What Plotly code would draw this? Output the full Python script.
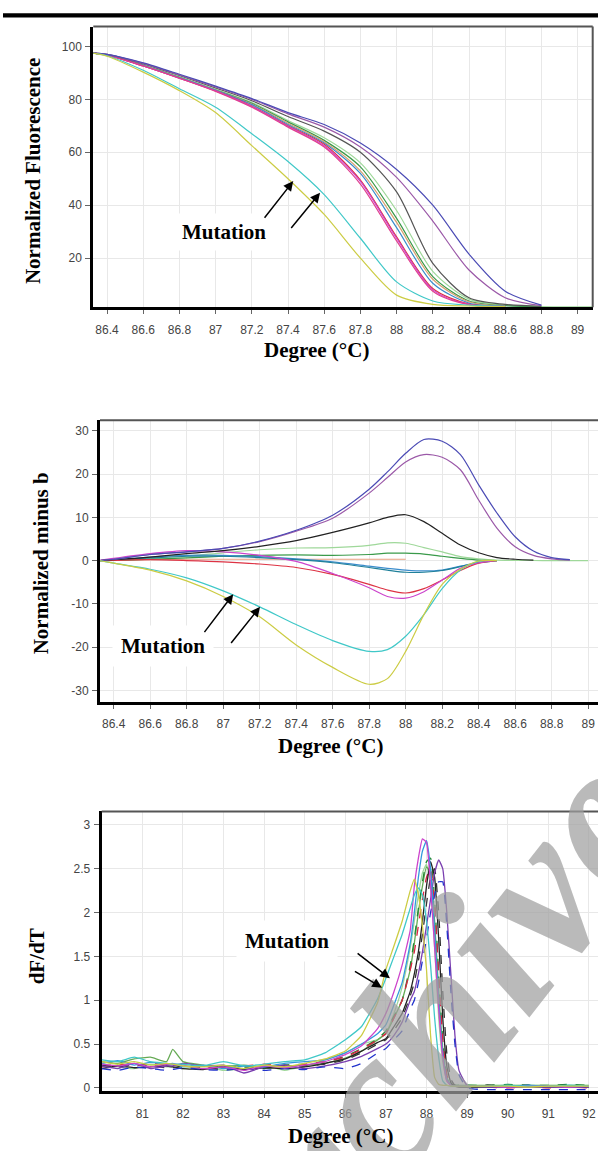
import plotly.graph_objects as go

W, H = 598, 1151

# ---------------- Panel A: normalized fluorescence ----------------
temp_a = [86.32, 86.4, 86.6, 86.8, 87.0, 87.2, 87.4, 87.6, 87.8, 88.0, 88.2, 88.4, 88.6, 88.8, 89.0, 89.08]
fa_blueviolet = [97.5, 97.0, 93.8, 89.5, 85.0, 80.3, 75.0, 70.5, 63.5, 53.5, 40.0, 21.5, 7.5, 2.2]
fa_purple     = [97.5, 97.0, 93.6, 89.2, 84.7, 80.0, 74.5, 69.5, 62.0, 50.5, 34.0, 15.5, 5.0, 2.0]
fa_darkgray   = [97.5, 97.0, 93.4, 89.0, 84.3, 79.5, 73.5, 68.0, 60.0, 45.0, 18.0, 5.0, 2.5, 1.8]
fa_lightgreen = [97.5, 96.8, 93.0, 88.5, 83.8, 78.8, 72.0, 65.5, 56.0, 38.0, 15.0, 4.5, 2.2, 1.7, 1.6, 1.6]
fa_green      = [97.5, 96.8, 92.8, 88.3, 83.5, 78.5, 71.5, 64.5, 54.5, 35.0, 13.0, 3.8, 2.0, 1.7]
fa_tan        = [97.5, 96.8, 92.8, 88.2, 83.4, 78.2, 71.0, 64.0, 53.0, 33.5, 12.0, 3.5, 1.9]
fa_blue       = [97.5, 96.8, 92.8, 88.2, 83.4, 78.0, 70.5, 63.5, 52.0, 31.5, 10.5, 3.0, 1.8]
fa_red        = [97.5, 96.8, 92.6, 88.0, 83.2, 77.5, 70.0, 63.0, 49.5, 28.0, 8.5, 2.6, 1.8]
fa_magenta    = [97.5, 96.8, 92.6, 88.0, 83.2, 77.3, 69.8, 62.5, 49.0, 27.5, 8.0, 2.5, 1.7]
fa_pink       = [97.5, 96.8, 92.6, 88.0, 83.0, 77.0, 69.5, 62.0, 48.0, 26.5, 7.5, 2.4, 1.7]
fa_cyan       = [97.5, 96.5, 91.0, 84.0, 77.0, 67.0, 56.5, 44.0, 27.5, 11.0, 3.8, 2.2, 1.8]
fa_yellow     = [97.5, 96.3, 90.3, 83.3, 75.0, 62.5, 50.0, 36.5, 20.0, 6.0, 2.5, 1.9, 1.7]
ticks_a_x = [86.4, 86.6, 86.8, 87.0, 87.2, 87.4, 87.6, 87.8, 88.0, 88.2, 88.4, 88.6, 88.8, 89.0]
ticks_a_y = [20, 40, 60, 80, 100]

# ---------------- Panel B: normalized minus baseline ----------------
temp_b = [86.32, 86.4, 86.6, 86.8, 87.0, 87.2, 87.4, 87.6, 87.8, 87.9, 88.0, 88.1, 88.2, 88.3, 88.4, 88.5, 88.6, 88.7, 88.8, 88.9, 89.0]
db_blueviolet = [0, 0.3, 1.4, 2.0, 2.8, 4.5, 7.0, 10.5, 16.5, 20.5, 24.8, 28.0, 27.6, 24.5, 17.5, 11.0, 5.5, 2.2, 0.7, 0.2]
db_purple     = [0, 0.3, 1.4, 2.0, 2.8, 4.4, 6.8, 9.8, 15.6, 19.2, 22.8, 24.5, 23.9, 21.0, 14.0, 7.5, 3.2, 1.2, 0.4, 0.1]
db_black      = [0, 0.2, 0.8, 1.6, 2.3, 3.3, 4.6, 6.5, 8.7, 10.0, 10.6, 9.0, 6.3, 3.6, 1.8, 0.7, 0.3, 0.1]
db_lightgreen = [0, 0.1, 0.5, 1.0, 1.8, 2.5, 2.9, 3.0, 3.5, 4.1, 4.0, 3.0, 2.0, 0.9, 0.4, 0.1, 0.05, 0.02, 0.0, 0.0, 0.0]
db_green      = [0, 0.05, 0.3, 0.6, 1.0, 1.2, 1.3, 1.2, 1.4, 1.7, 1.7, 1.5, 1.0, 0.5, 0.1, 0.0]
db_salmon     = [0, 0.1, 0.2, 0.3, 0.3, 0.3, 0.3, 0.3, 0.3, 0.3, 0.3]
db_blue       = [0, 0.2, 0.8, 1.2, 1.2, 0.9, 0.4, -0.3, -1.3, -1.8, -2.2, -2.4, -2.2, -1.3, -0.4, 0.0]
db_teal       = [0, 0.15, 0.6, 1.0, 1.0, 0.7, 0.2, -0.5, -1.6, -2.2, -2.7, -2.7, -2.3, -1.4, -0.5, 0.0]
db_red        = [0, 0.05, 0.2, 0.0, -0.3, -0.8, -1.6, -3.2, -5.5, -6.8, -7.5, -6.5, -4.5, -2.3, -0.6, 0.0]
db_magenta    = [0, 0.5, 1.6, 2.3, 2.0, 1.2, -0.2, -3.0, -6.3, -8.3, -8.7, -7.2, -4.5, -1.8, -0.5, 0.0]
db_cyan       = [0, -0.6, -2.0, -4.0, -7.0, -10.7, -14.8, -18.5, -21.0, -20.6, -17.5, -12.5, -6.5, -2.2, -0.2, 0.0]
db_yellow     = [0, -0.6, -2.2, -4.7, -8.3, -13.0, -19.5, -24.7, -28.6, -27.3, -21.0, -12.5, -5.5, -2.0, -0.1, 0.0]
ticks_b_x = ticks_a_x
ticks_b_y = [-30, -20, -10, 0, 10, 20, 30]

# ---------------- Panel C: derivative dF/dT ----------------
temp_c = [80.0, 80.4, 80.8, 81.2, 81.6, 81.75, 82.0, 82.5, 83.0, 83.5, 84.0, 84.5, 85.0, 85.5, 86.0, 86.4, 86.8,
          87.0, 87.2, 87.4, 87.6, 87.7, 87.8, 87.9, 88.0, 88.1, 88.2, 88.3, 88.4, 88.5, 88.6, 88.7, 88.8, 89.0,
          89.5, 90.0, 90.5, 91.0, 91.5, 92.0]
dc_yellow = [0.30, 0.27, 0.30, 0.26, 0.28, 0.27, 0.25, 0.24, 0.26, 0.22, 0.26, 0.24, 0.28, 0.33, 0.42, 0.60, 0.98,
             1.35, 1.62, 1.9, 2.25, 2.38, 2.2, 1.85, 1.35, 0.6, 0.12, 0.04, 0.03, 0.03, 0.02, 0.02, 0.02, 0.02,
             0.02, 0.02, 0.01, 0.02, 0.02, 0.02]
dc_cyan = [0.32, 0.30, 0.35, 0.30, 0.28, 0.27, 0.27, 0.25, 0.30, 0.25, 0.27, 0.30, 0.32, 0.40, 0.55, 0.70, 1.02,
           1.25, 1.5, 1.75, 2.05, 2.2, 2.28, 2.2, 1.9, 1.4, 0.8, 0.35, 0.08, 0.03, 0.02, 0.02, 0.02, 0.02,
           0.02, 0.03, 0.02, 0.02, 0.03, 0.02]
dc_magenta = [0.27, 0.25, 0.28, 0.24, 0.27, 0.27, 0.26, 0.22, 0.24, 0.20, 0.25, 0.23, 0.26, 0.30, 0.38, 0.48, 0.68,
              0.85, 1.1, 1.4, 1.8, 2.3, 2.62, 2.84, 2.8, 2.3, 1.6, 0.9, 0.35, 0.08, 0.03, 0.02, 0.02, 0.02,
              0.02, 0.01, 0.02, 0.02, 0.01, 0.02]
dc_lightblue = [0.28, 0.31, 0.26, 0.29, 0.27, 0.28, 0.24, 0.26, 0.22, 0.25, 0.24, 0.28, 0.30, 0.32, 0.40, 0.50, 0.62,
                0.72, 0.95, 1.2, 1.65, 2.0, 2.4, 2.7, 2.82, 2.5, 1.8, 1.0, 0.4, 0.1, 0.03, 0.02, 0.02, 0.02,
                0.02, 0.02, 0.03, 0.02, 0.02, 0.02]
dc_greendash = [0.25, 0.23, 0.27, 0.25, 0.26, 0.26, 0.24, 0.22, 0.25, 0.24, 0.22, 0.26, 0.27, 0.30, 0.36, 0.45, 0.56,
                0.65, 0.82, 1.0, 1.4, 1.7, 2.05, 2.35, 2.58, 2.62, 2.15, 1.3, 0.55, 0.15, 0.04, 0.03, 0.03, 0.03,
                0.03, 0.04, 0.03, 0.03, 0.04, 0.03]
dc_olive = [0.30, 0.28, 0.33, 0.35, 0.30, 0.44, 0.30, 0.26, 0.24, 0.26, 0.23, 0.25, 0.26, 0.28, 0.34, 0.42, 0.55,
            0.62, 0.8, 1.0, 1.35, 1.65, 2.0, 2.3, 2.52, 2.45, 1.9, 1.1, 0.45, 0.12, 0.03, 0.02, 0.02, 0.02,
            0.02, 0.02, 0.02, 0.02, 0.02, 0.02]
dc_reddash = [0.24, 0.27, 0.25, 0.28, 0.26, 0.25, 0.27, 0.24, 0.22, 0.25, 0.27, 0.25, 0.27, 0.30, 0.35, 0.44, 0.55,
              0.62, 0.8, 1.0, 1.35, 1.55, 1.85, 2.15, 2.4, 2.5, 2.1, 1.3, 0.55, 0.15, 0.04, 0.02, 0.02, 0.02,
              0.01, 0.0, 0.01, 0.0, 0.01, 0.0]
dc_black = [0.22, 0.25, 0.23, 0.24, 0.25, 0.24, 0.22, 0.21, 0.24, 0.21, 0.23, 0.22, 0.24, 0.28, 0.33, 0.42, 0.52,
            0.56, 0.7, 0.85, 1.1, 1.3, 1.55, 1.9, 2.3, 2.58, 2.4, 1.7, 0.8, 0.25, 0.06, 0.02, 0.01, 0.01,
            0.01, 0.01, 0.01, 0.01, 0.01, 0.01]
dc_blackdash = [0.26, 0.24, 0.27, 0.25, 0.23, 0.23, 0.25, 0.23, 0.21, 0.24, 0.24, 0.26, 0.25, 0.27, 0.32, 0.40, 0.50,
                0.55, 0.66, 0.8, 1.05, 1.2, 1.45, 1.75, 2.1, 2.4, 2.5, 2.0, 1.1, 0.4, 0.1, 0.03, 0.02, 0.02,
                0.03, 0.02, 0.03, 0.02, 0.03, 0.02]
dc_purple = [0.25, 0.22, 0.28, 0.22, 0.25, 0.25, 0.28, 0.25, 0.26, 0.17, 0.24, 0.26, 0.22, 0.25, 0.30, 0.36, 0.45,
             0.5, 0.6, 0.75, 1.0, 1.1, 1.3, 1.55, 1.85, 2.15, 2.45, 2.6, 2.5, 2.0, 1.3, 0.6, 0.2, 0.03,
             0.01, 0.01, 0.01, 0.01, 0.01, 0.01]
dc_bluedash = [0.22, 0.20, 0.24, 0.22, 0.20, 0.21, 0.23, 0.21, 0.20, 0.22, 0.20, 0.22, 0.21, 0.24, 0.22, 0.28, 0.40,
               0.45, 0.55, 0.65, 0.9, 1.0, 1.2, 1.45, 1.7, 2.0, 2.2, 2.35, 2.35, 1.85, 1.1, 0.5, 0.15, 0.0,
               -0.02, -0.02, -0.02, -0.02, -0.02, -0.02]
dc_lightgreen = [0.28, 0.24, 0.22, 0.27, 0.24, 0.24, 0.22, 0.25, 0.20, 0.22, 0.26, 0.20, 0.25, 0.32, 0.40, 0.50, 0.55,
                 0.62, 0.85, 1.15, 1.6, 1.9, 2.2, 2.45, 2.55, 2.3, 1.6, 0.8, 0.3, 0.08, 0.03, 0.03, 0.03, 0.03,
                 0.03, 0.03, 0.03, 0.03, 0.03, 0.03]
ticks_c_x = [81, 82, 83, 84, 85, 86, 87, 88, 89, 90, 91, 92]
ticks_c_y = [0, 0.5, 1, 1.5, 2, 2.5, 3]


def px(x):
    return x / W


def py(y):
    return 1 - y / H


fig = go.Figure()

series_a = [
    (fa_lightgreen, "#9fd89a"), (fa_green, "#3a9a4a"), (fa_tan, "#d8a070"), (fa_blue, "#3a8ccc"),
    (fa_red, "#dd3344"), (fa_magenta, "#cc44cc"), (fa_pink, "#e0408f"), (fa_darkgray, "#555555"),
    (fa_purple, "#9b59a8"), (fa_blueviolet, "#4b4bb5"), (fa_cyan, "#40c8c8"), (fa_yellow, "#cccc44"),
]
for vals, col in series_a:
    fig.add_trace(go.Scatter(x=temp_a[:len(vals)], y=vals, mode="lines", xaxis="x", yaxis="y",
                             line=dict(color=col, width=1.2, shape="spline", smoothing=0.8)))

series_b = [
    (db_salmon, "#e8a080"), (db_lightgreen, "#9fd89a"), (db_green, "#3a9a4a"), (db_blue, "#3a8ccc"),
    (db_teal, "#20809a"), (db_red, "#dd3344"), (db_magenta, "#cc44cc"), (db_black, "#222222"),
    (db_purple, "#9b59a8"), (db_blueviolet, "#4b4bb5"), (db_cyan, "#40c8c8"), (db_yellow, "#cccc44"),
]
for vals, col in series_b:
    fig.add_trace(go.Scatter(x=temp_b[:len(vals)], y=vals, mode="lines", xaxis="x2", yaxis="y2",
                             line=dict(color=col, width=1.2, shape="spline", smoothing=0.8)))

series_c = [
    (dc_lightgreen, "#9fd89a", "solid"), (dc_olive, "#66aa55", "solid"), (dc_greendash, "#228833", "dash"),
    (dc_reddash, "#dd2244", "dash"), (dc_black, "#222222", "solid"), (dc_blackdash, "#333333", "dash"),
    (dc_purple, "#7a3fb0", "solid"), (dc_bluedash, "#2233cc", "dash"), (dc_lightblue, "#3399dd", "solid"),
    (dc_magenta, "#cc44cc", "solid"), (dc_cyan, "#40c8c8", "solid"), (dc_yellow, "#cccc44", "solid"),
]
for vals, col, dash in series_c:
    fig.add_trace(go.Scatter(x=temp_c, y=vals, mode="lines", xaxis="x3", yaxis="y3",
                             line=dict(color=col, width=1.3, dash=dash, shape="spline", smoothing=0.4)))

tickfont = dict(family="Liberation Sans", size=12, color="#444444")


def xax(domain, rng, tickvals, anchor):
    return dict(domain=domain, range=rng, tickvals=tickvals,
                ticktext=[("%g" % v) for v in tickvals], anchor=anchor,
                ticks="outside", ticklen=4, tickcolor="#666666", tickwidth=1,
                showgrid=True, gridcolor="#e8e8e8", gridwidth=1, zeroline=False,
                showline=True, linecolor="black", linewidth=3,
                tickfont=tickfont, ticklabelstandoff=5, fixedrange=True)


def yax(domain, rng, tickvals, anchor):
    return dict(domain=domain, range=rng, tickvals=tickvals,
                ticktext=[("%g" % v) for v in tickvals], anchor=anchor,
                ticks="outside", ticklen=5, tickcolor="#666666", tickwidth=1,
                showgrid=True, gridcolor="#e8e8e8", gridwidth=1, zeroline=False,
                showline=True, linecolor="black", linewidth=3,
                tickfont=tickfont, ticklabelstandoff=1, fixedrange=True)


A = dict(l=93.3, r=592.7, t=26.7, b=308.3)
B = dict(l=100.0, r=598.0, t=421.7, b=704.0)
C = dict(l=101.7, r=598.0, t=814.3, b=1095.0)

fig.update_layout(
    width=W, height=H, margin=dict(l=0, r=0, t=0, b=0),
    paper_bgcolor="white", plot_bgcolor="white", showlegend=False,
    xaxis=xax([px(A["l"]), px(A["r"])], [86.3243, 89.0834], ticks_a_x, "y"),
    yaxis=yax([py(A["b"]), py(A["t"])], [1.43, 107.5], ticks_a_y, "x"),
    xaxis2=xax([px(B["l"]), px(B["r"])], [86.325, 89.054], ticks_b_x, "y2"),
    yaxis2=yax([py(B["b"]), py(B["t"])], [-32.6, 32.45], ticks_b_y, "x2"),
    xaxis3=xax([px(C["l"]), px(C["r"])], [80.0, 92.224], ticks_c_x, "y3"),
    yaxis3=yax([py(C["b"]), py(C["t"])], [-0.0375, 3.152], ticks_c_y, "x3"),
)

shapes = []
shapes.append(dict(type="rect", xref="paper", yref="paper", x0=px(3), x1=1.0, y0=py(17.5), y1=py(13.3),
                   fillcolor="black", line=dict(width=0)))
for P, right in ((A, True), (B, False), (C, False)):
    shapes.append(dict(type="line", xref="paper", yref="paper", x0=px(P["l"]), x1=px(P["r"]),
                       y0=py(P["t"]), y1=py(P["t"]), line=dict(color="#555555", width=2)))
    if right:
        shapes.append(dict(type="line", xref="paper", yref="paper", x0=px(P["r"]), x1=px(P["r"]),
                           y0=py(P["b"]), y1=py(P["t"]), line=dict(color="#555555", width=2)))
fig.update_layout(shapes=shapes)

serif = "Liberation Serif"
ann = []


def label(text, x, y, size=21, angle=0, bg=None, pad=1):
    d = dict(text=text, xref="paper", yref="paper", x=px(x), y=py(y), showarrow=False,
             xanchor="center", yanchor="middle", textangle=angle,
             font=dict(family=serif, size=size, color="black", weight="bold"))
    if bg:
        d.update(bgcolor=bg, borderpad=pad)
    return d


# watermark
ann.append(dict(text="Archive", xref="paper", yref="paper", x=px(408), y=py(1060), showarrow=False,
                xanchor="center", yanchor="middle", textangle=-52,
                font=dict(family=serif, size=212, color="rgba(160,160,160,0.72)", weight="bold", style="italic")))

ann.append(label("Normalized Fluorescence", 33, 171.7, angle=-90))
ann.append(label("Normalized minus b", 41.3, 565, angle=-90))
ann.append(label("dF/dT", 36.7, 960, angle=-90))
ann.append(label("Degree (°C)", 316.6, 351))
ann.append(label("Degree (°C)", 330, 749))
ann.append(label("Degree (°C)", 340, 1140))
ann.append(label("Mutation", 223.7, 233, bg="white", pad=6))
ann.append(label("Mutation", 163.3, 648.5, bg="white", pad=8))
ann.append(label("Mutation", 286.8, 944, bg="white", pad=8))


def arrow(xr, yr, hx, hy, tx, ty):
    return dict(text="", xref=xr, yref=yr, axref=xr, ayref=yr, x=hx, y=hy, ax=tx, ay=ty,
                showarrow=True, arrowhead=2, arrowsize=1.3, arrowwidth=1.5, arrowcolor="black",
                standoff=0, startstandoff=0)


ann.append(arrow("x", "y", 87.429, 49.1, 87.264, 34.7))
ann.append(arrow("x", "y", 87.577, 44.7, 87.411, 30.8))
ann.append(arrow("x2", "y2", 87.055, -7.8, 86.891, -16.9))
ann.append(arrow("x2", "y2", 87.202, -10.7, 87.037, -19.4))
ann.append(arrow("x3", "y3", 87.099, 1.249, 86.266, 1.547))
ann.append(arrow("x3", "y3", 86.904, 1.143, 86.2, 1.338))

fig.update_layout(annotations=ann)
fig.write_html("out.html", config={"displayModeBar": False},
               post_script="document.body.style.margin='0px';")
